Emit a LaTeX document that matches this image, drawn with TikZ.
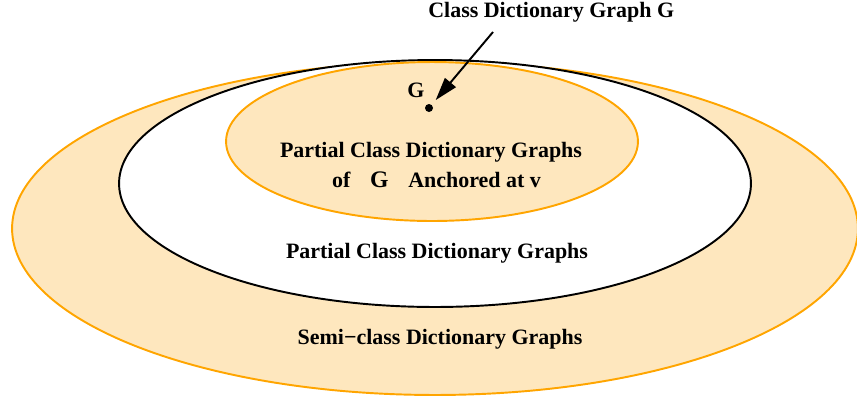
\documentclass[tikz,border=0pt]{standalone}
\usepackage{fontspec}
\setmainfont{Liberation Serif}
\usetikzlibrary{arrows.meta}

\definecolor{setfill}{RGB}{254,231,190}
\definecolor{setline}{RGB}{255,165,0}

\begin{document}
\begin{tikzpicture}[
    x=0.02cm, y=-0.02cm,
    lbl/.style={font=\fontsize{12.5}{15}\selectfont\bfseries, inner sep=0pt, anchor=base},
    orng/.style={fill=setfill, draw=setline, line width=1.1pt},
    blk/.style={fill=white, draw=black, line width=1.1pt},
    dotnode/.style={circle, fill=black, inner sep=0pt, minimum size=0.16cm},
    arr/.style={-{Triangle[length=0.46cm, width=0.28cm]}, line width=1.1pt},
]
\useasboundingbox (0,0) rectangle (857,400);

% nested sets
\path[orng] (435,228.5) ellipse [x radius=8.46cm, y radius=3.33cm];
\path[blk]  (435,183.5) ellipse [x radius=6.32cm, y radius=2.47cm];
\path[orng] (432,141.5) ellipse [x radius=4.12cm, y radius=1.59cm];

% labels
\node[lbl, anchor=base west] (title) at (428,17) {Class Dictionary Graph G};
\node[lbl] (glabel) at (416,97) {G};
\node[dotnode] (gdot) at (429,108) {};
\node[lbl] (inlabel) at (431,157) {Partial Class Dictionary Graphs};
\node[lbl] (anchlabel) at (436.5,187)
    {of\hspace{0.9em}{\fontsize{13.5}{15}\selectfont G}\hspace{0.9em}Anchored at v};
\node[lbl] (partlabel) at (437,258) {Partial Class Dictionary Graphs};
\node[lbl] (semilabel) at (440,344) {Semi−class Dictionary Graphs};

\coordinate (tail) at (493,32);
\draw[arr, shorten >=0.12cm] (tail) -- (gdot);
\end{tikzpicture}
\end{document}
